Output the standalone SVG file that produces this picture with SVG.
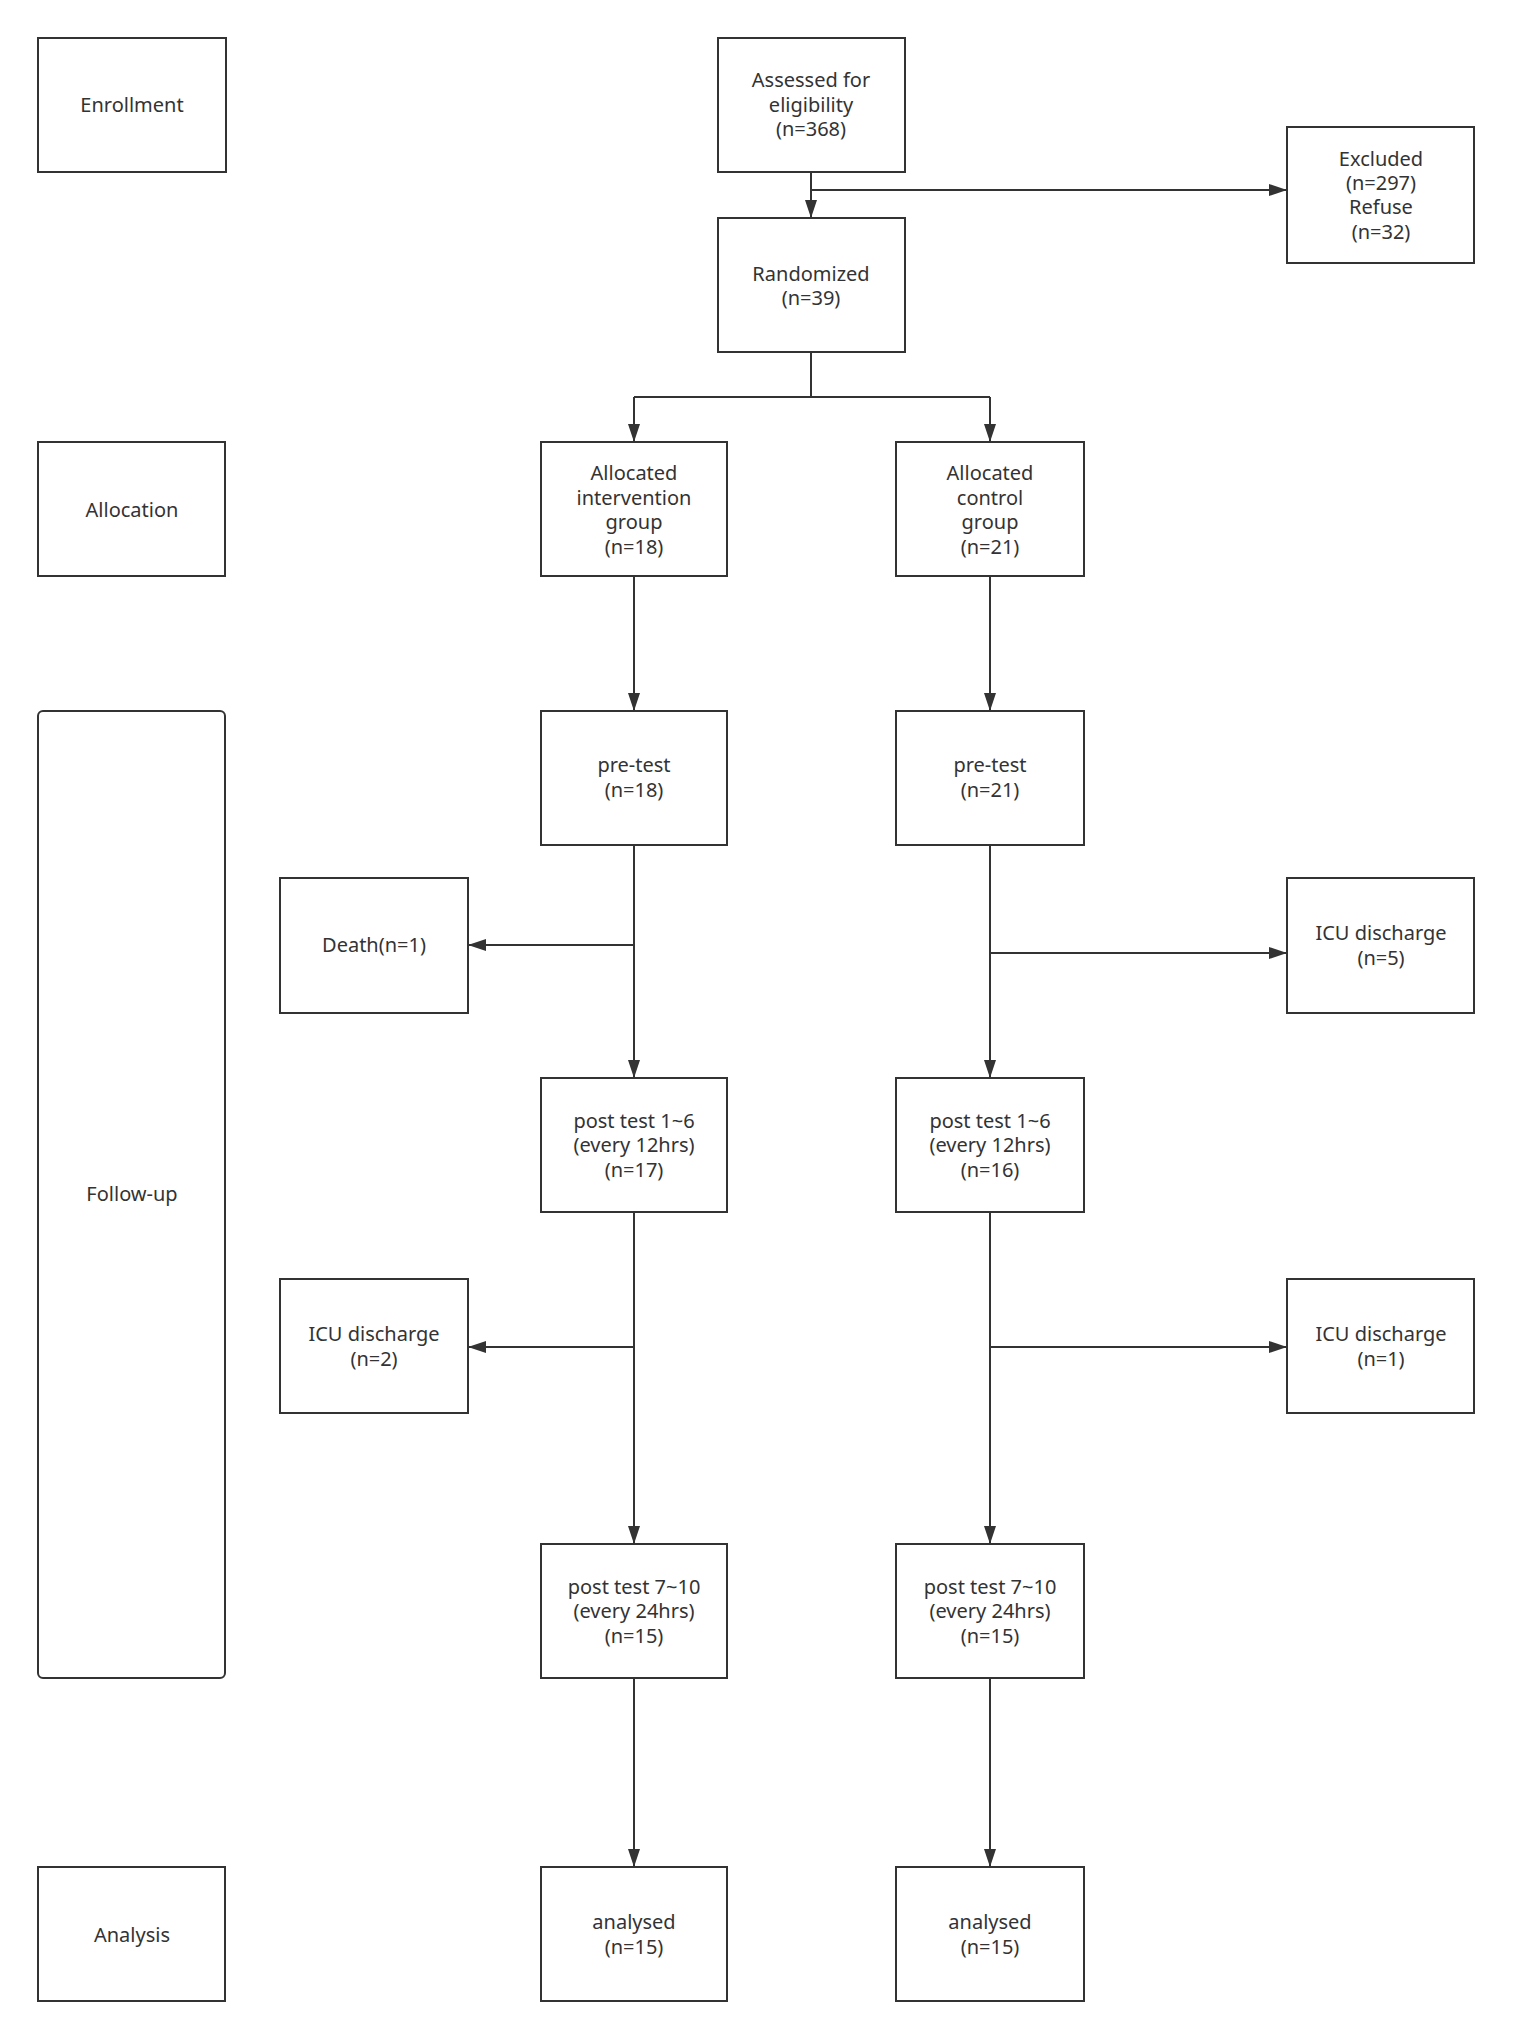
<svg xmlns="http://www.w3.org/2000/svg" width="1513" height="2040" viewBox="0 0 1513 2040">
<defs>
<marker id="a" viewBox="0 0 10 10" refX="10" refY="5" markerWidth="18" markerHeight="12" markerUnits="userSpaceOnUse" orient="auto" preserveAspectRatio="none"><path d="M0,0 L10,5 L0,10 z" fill="#333"/></marker>
<style>
rect{fill:#fff;stroke:#333;stroke-width:2}
text{font-family:"Noto Sans","Open Sans",sans-serif;font-size:20px;fill:#333;text-anchor:middle}
#connectors path{fill:none;stroke:#333;stroke-width:2;marker-end:url(#a)}
#connectors line{stroke:#333;stroke-width:2}
</style>
</defs>
<rect x="0" y="0" width="1513" height="2040" style="fill:#fff;stroke:none"/>
<g id="connectors">
<path d="M811,172 V218"/>
<path d="M811,190 H1287"/>
<line x1="811" y1="352" x2="811" y2="397"/>
<line x1="634" y1="397" x2="990" y2="397"/>
<path d="M634,397 V442"/>
<path d="M990,397 V442"/>
<path d="M634,576 V711"/>
<path d="M990,576 V711"/>
<path d="M634,845 V1078"/>
<path d="M990,845 V1078"/>
<path d="M634,945 H468"/>
<path d="M990,953 H1287"/>
<path d="M634,1212 V1544"/>
<path d="M990,1212 V1544"/>
<path d="M634,1347 H468"/>
<path d="M990,1347 H1287"/>
<path d="M634,1678 V1867"/>
<path d="M990,1678 V1867"/>
</g>
<g id="enrollment"><rect x="38" y="38" width="188" height="134"/><text x="132" y="112">Enrollment</text></g>
<g id="assessed"><rect x="718" y="38" width="187" height="134"/><text x="811" y="87">Assessed for</text><text x="811" y="112">eligibility</text><text x="811" y="136">(n=368)</text></g>
<g id="excluded"><rect x="1287" y="127" width="187" height="136"/><text x="1381" y="166">Excluded</text><text x="1381" y="190">(n=297)</text><text x="1381" y="214">Refuse</text><text x="1381" y="239">(n=32)</text></g>
<g id="randomized"><rect x="718" y="218" width="187" height="134"/><text x="811" y="281">Randomized</text><text x="811" y="305">(n=39)</text></g>
<g id="allocation"><rect x="38" y="442" width="187" height="134"/><text x="132" y="517">Allocation</text></g>
<g id="alloc-int"><rect x="541" y="442" width="186" height="134"/><text x="634" y="480">Allocated</text><text x="634" y="505">intervention</text><text x="634" y="529">group</text><text x="634" y="554">(n=18)</text></g>
<g id="alloc-ctl"><rect x="896" y="442" width="188" height="134"/><text x="990" y="480">Allocated</text><text x="990" y="505">control</text><text x="990" y="529">group</text><text x="990" y="554">(n=21)</text></g>
<g id="followup"><rect x="38" y="711" width="187" height="967" rx="5"/><text x="132" y="1201">Follow-up</text></g>
<g id="pre-int"><rect x="541" y="711" width="186" height="134"/><text x="634" y="772">pre-test</text><text x="634" y="797">(n=18)</text></g>
<g id="pre-ctl"><rect x="896" y="711" width="188" height="134"/><text x="990" y="772">pre-test</text><text x="990" y="797">(n=21)</text></g>
<g id="death"><rect x="280" y="878" width="188" height="135"/><text x="374" y="952">Death(n=1)</text></g>
<g id="icu5"><rect x="1287" y="878" width="187" height="135"/><text x="1381" y="940">ICU discharge</text><text x="1381" y="965">(n=5)</text></g>
<g id="post1-int"><rect x="541" y="1078" width="186" height="134"/><text x="634" y="1128">post test 1~6</text><text x="634" y="1152">(every 12hrs)</text><text x="634" y="1177">(n=17)</text></g>
<g id="post1-ctl"><rect x="896" y="1078" width="188" height="134"/><text x="990" y="1128">post test 1~6</text><text x="990" y="1152">(every 12hrs)</text><text x="990" y="1177">(n=16)</text></g>
<g id="icu2"><rect x="280" y="1279" width="188" height="134"/><text x="374" y="1341">ICU discharge</text><text x="374" y="1366">(n=2)</text></g>
<g id="icu1"><rect x="1287" y="1279" width="187" height="134"/><text x="1381" y="1341">ICU discharge</text><text x="1381" y="1366">(n=1)</text></g>
<g id="post7-int"><rect x="541" y="1544" width="186" height="134"/><text x="634" y="1594">post test 7~10</text><text x="634" y="1618">(every 24hrs)</text><text x="634" y="1643">(n=15)</text></g>
<g id="post7-ctl"><rect x="896" y="1544" width="188" height="134"/><text x="990" y="1594">post test 7~10</text><text x="990" y="1618">(every 24hrs)</text><text x="990" y="1643">(n=15)</text></g>
<g id="analysis"><rect x="38" y="1867" width="187" height="134"/><text x="132" y="1942">Analysis</text></g>
<g id="an-int"><rect x="541" y="1867" width="186" height="134"/><text x="634" y="1929">analysed</text><text x="634" y="1954">(n=15)</text></g>
<g id="an-ctl"><rect x="896" y="1867" width="188" height="134"/><text x="990" y="1929">analysed</text><text x="990" y="1954">(n=15)</text></g>
</svg>
